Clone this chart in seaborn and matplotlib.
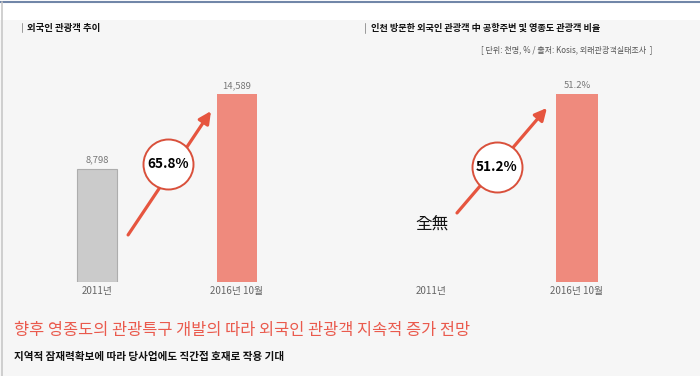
import matplotlib
matplotlib.use("Agg")
import matplotlib.pyplot as plt
import pandas as pd
import seaborn as sns
from matplotlib.lines import Line2D
from matplotlib.patches import Rectangle

# data
LEFT_CATS = ["2011년", "2016년 10월"]
LEFT_VALUES = [8798, 14589]
LEFT_LABELS = ["8,798", "14,589"]
RIGHT_CATS = ["2011년", "2016년 10월"]
RIGHT_VALUES = [0.0, 51.2]
RIGHT_LABELS = ["", "51.2%"]

GRAY_BAR = "#cbcbcb"
RED_BAR = "#ef8a7d"
ARROW = "#e6553f"
BG = "#f6f6f6"
FONT = ["Noto Sans CJK KR", "DejaVu Sans"]

sns.set_theme(style="white")
plt.rcParams["font.family"] = FONT

fig = plt.figure(figsize=(7.0, 3.76), dpi=100)
fig.patch.set_facecolor(BG)
W, H = 700, 376


def fx(px):
    return px / W


def fy(py):
    return 1 - py / H


# white band on top and frame lines
fig.add_artist(Rectangle((0, fy(20)), 1, 20 / H, transform=fig.transFigure,
                         facecolor="white", edgecolor="none", zorder=0))
fig.add_artist(Line2D([0, 1], [fy(1.5), fy(1.5)], transform=fig.transFigure,
                      color="#7186a8", linewidth=1.5))
fig.add_artist(Line2D([fx(1.5), fx(1.5)], [0, fy(2)], transform=fig.transFigure,
                      color="#c8c8c8", linewidth=1.2))


def bar_panel(rect, cats, values, labels, colors, ymax):
    ax = fig.add_axes(rect)
    df = pd.DataFrame({"cat": cats, "value": values})
    sns.barplot(data=df, x="cat", y="value", hue="cat", palette=colors,
                order=cats, width=0.285, legend=False, ax=ax, saturation=1,
                edgecolor="none")
    ax.set_xlim(-0.5, 1.5)
    ax.set_ylim(0, ymax)
    ax.set_facecolor("none")
    ax.set_xlabel("")
    ax.set_ylabel("")
    ax.set_yticks([])
    ax.tick_params(axis="x", length=0, pad=3, labelsize=7, labelcolor="#666666")
    for s in ax.spines.values():
        s.set_visible(False)
    for cont, lab in zip(ax.containers, labels):
        ax.bar_label(cont, labels=[lab], padding=3, fontsize=6.8, color="#777777")
    return ax


def growth_arrow(ax, start, end, circle, text):
    ax.annotate("", xy=end, xytext=start, xycoords="axes fraction",
                textcoords="axes fraction",
                arrowprops=dict(arrowstyle="-|>,head_length=0.6,head_width=0.3",
                                color=ARROW, lw=2.3, shrinkA=0, shrinkB=0))
    ax.plot([circle[0]], [circle[1]], marker="o", ms=36, mfc="white", mec="#d9503b",
            mew=1.4, transform=ax.transAxes, clip_on=False, zorder=5)
    ax.text(circle[0], circle[1], text, transform=ax.transAxes, ha="center",
            va="center", fontsize=9.8, fontweight="bold", color="black", zorder=6)


left_ax = bar_panel([fx(27), fy(282), fx(280), 222 / H], LEFT_CATS, LEFT_VALUES,
                    LEFT_LABELS, [GRAY_BAR, RED_BAR], 14589 * 222 / 188)
left_ax.patches[0].set_edgecolor("#adadad")
left_ax.patches[0].set_linewidth(0.8)
growth_arrow(left_ax, (0.361, 0.212), (0.657, 0.77), (0.504, 0.532), "65.8%")

right_ax = bar_panel([fx(358), fy(282), fx(292), 222 / H], RIGHT_CATS, RIGHT_VALUES,
                     RIGHT_LABELS, [GRAY_BAR, RED_BAR], 51.2 * 222 / 188)
growth_arrow(right_ax, (0.339, 0.311), (0.647, 0.784), (0.476, 0.52), "51.2%")
right_ax.text(0.253, 0.26, "全無", transform=right_ax.transAxes, ha="center",
              va="center", fontsize=12, color="#111111",
              family=["Noto Sans CJK KR", "DejaVu Sans"])

# titles
fig.add_artist(Line2D([fx(22), fx(22)], [fy(23), fy(32)], transform=fig.transFigure,
                      color="#999999", linewidth=0.7))
fig.text(fx(27), fy(28), "외국인 관광객 추이", fontsize=6.8, fontweight="bold",
         va="center", ha="left", color="#111111")
fig.add_artist(Line2D([fx(365), fx(365)], [fy(23), fy(33)], transform=fig.transFigure,
                      color="#999999", linewidth=0.7))
fig.text(fx(371), fy(28), "인천 방문한 외국인 관광객 中 공항주변 및 영종도 관광객 비율",
         fontsize=6.6, fontweight="bold", va="center", ha="left", color="#111111")
fig.text(fx(652), fy(50), "[ 단위: 천명, % / 출처: Kosis, 외래관광객실태조사  ]",
         fontsize=5.8, va="center", ha="right", color="#555555")

# bottom comments
fig.text(fx(14), fy(331), "향후 영종도의 관광특구 개발의 따라 외국인 관광객 지속적 증가 전망",
         fontsize=11.8, va="center", ha="left", color="#ea5a4d")
fig.text(fx(14), fy(357), "지역적 잠재력확보에 따라 당사업에도 직간접 호재로 작용 기대",
         fontsize=7.6, fontweight="bold", va="center", ha="left", color="#111111")

fig.savefig("out.png", dpi=100, facecolor=fig.get_facecolor())
